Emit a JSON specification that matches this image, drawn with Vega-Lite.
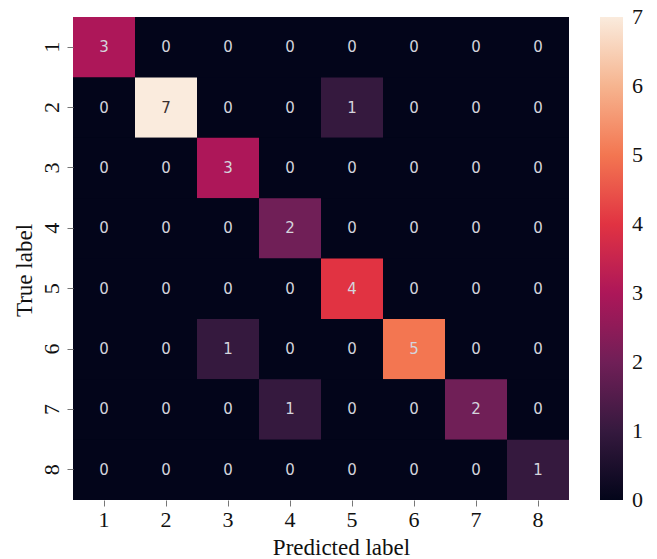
{
  "$schema": "https://vega.github.io/schema/vega-lite/v6.json",
  "autosize": "none",
  "padding": {"left": 73, "top": 17, "right": 88, "bottom": 59},
  "width": 496,
  "height": 483,
  "background": "white",
  "config": {"view": {"stroke": null, "fill": "#03051a"}},
  "data": {"values": [
    {"t":"1","p":"1","v":3},{"t":"1","p":"2","v":0},{"t":"1","p":"3","v":0},{"t":"1","p":"4","v":0},{"t":"1","p":"5","v":0},{"t":"1","p":"6","v":0},{"t":"1","p":"7","v":0},{"t":"1","p":"8","v":0},
    {"t":"2","p":"1","v":0},{"t":"2","p":"2","v":7},{"t":"2","p":"3","v":0},{"t":"2","p":"4","v":0},{"t":"2","p":"5","v":1},{"t":"2","p":"6","v":0},{"t":"2","p":"7","v":0},{"t":"2","p":"8","v":0},
    {"t":"3","p":"1","v":0},{"t":"3","p":"2","v":0},{"t":"3","p":"3","v":3},{"t":"3","p":"4","v":0},{"t":"3","p":"5","v":0},{"t":"3","p":"6","v":0},{"t":"3","p":"7","v":0},{"t":"3","p":"8","v":0},
    {"t":"4","p":"1","v":0},{"t":"4","p":"2","v":0},{"t":"4","p":"3","v":0},{"t":"4","p":"4","v":2},{"t":"4","p":"5","v":0},{"t":"4","p":"6","v":0},{"t":"4","p":"7","v":0},{"t":"4","p":"8","v":0},
    {"t":"5","p":"1","v":0},{"t":"5","p":"2","v":0},{"t":"5","p":"3","v":0},{"t":"5","p":"4","v":0},{"t":"5","p":"5","v":4},{"t":"5","p":"6","v":0},{"t":"5","p":"7","v":0},{"t":"5","p":"8","v":0},
    {"t":"6","p":"1","v":0},{"t":"6","p":"2","v":0},{"t":"6","p":"3","v":1},{"t":"6","p":"4","v":0},{"t":"6","p":"5","v":0},{"t":"6","p":"6","v":5},{"t":"6","p":"7","v":0},{"t":"6","p":"8","v":0},
    {"t":"7","p":"1","v":0},{"t":"7","p":"2","v":0},{"t":"7","p":"3","v":0},{"t":"7","p":"4","v":1},{"t":"7","p":"5","v":0},{"t":"7","p":"6","v":0},{"t":"7","p":"7","v":2},{"t":"7","p":"8","v":0},
    {"t":"8","p":"1","v":0},{"t":"8","p":"2","v":0},{"t":"8","p":"3","v":0},{"t":"8","p":"4","v":0},{"t":"8","p":"5","v":0},{"t":"8","p":"6","v":0},{"t":"8","p":"7","v":0},{"t":"8","p":"8","v":1}
  ]},
  "encoding": {
    "x": {"field": "p", "type": "ordinal", "sort": ["1","2","3","4","5","6","7","8"],
      "scale": {"paddingInner": 0, "paddingOuter": 0},
      "axis": {"title": "Predicted label", "labelAngle": 0, "labelFont": "Liberation Serif", "labelFontSize": 22, "labelColor": "#111", "labelPadding": 3,
        "tickSize": 6, "tickColor": "#777", "domain": false,
        "titleFont": "Liberation Serif", "titleFontSize": 23, "titleFontWeight": "normal", "titleColor": "#111",
        "titleX": 268, "titleY": 54, "titleBaseline": "alphabetic"}},
    "y": {"field": "t", "type": "ordinal", "sort": ["1","2","3","4","5","6","7","8"],
      "scale": {"paddingInner": 0, "paddingOuter": 0},
      "axis": {"title": "True label", "labelAngle": -90, "labelFont": "Liberation Serif", "labelFontSize": 22, "labelColor": "#111", "labelPadding": 4,
        "tickSize": 6, "tickColor": "#777", "domain": false,
        "titleFont": "Liberation Serif", "titleFontSize": 23, "titleFontWeight": "normal", "titleColor": "#111",
        "titleX": -42, "titleY": 253, "titleBaseline": "alphabetic"}}
  },
  "layer": [
    {
      "mark": {"type": "rect", "strokeWidth": 0},
      "encoding": {
        "color": {"field": "v", "type": "quantitative",
          "scale": {"type": "linear", "domain": [0,1,2,3,4,5,6,7], "range": ["#03051a","#35193e","#701f57","#ad1759","#e13342","#f37651","#f6b48f","#faebdd"], "interpolate": "rgb"},
          "legend": {"type": "gradient", "title": null, "orient": "right", "offset": 31, "gradientLength": 483, "gradientThickness": 23,
            "values": [0,1,2,3,4,5,6,7], "labelFont": "Liberation Serif", "labelFontSize": 22, "labelColor": "#111",
            "labelBaseline": "middle", "labelOffset": 9, "labelOverlap": false, "gradientStrokeWidth": 0,
            "encode": {"labels": {"update": {"baseline": {"value": "middle"}}}}}}
      }
    },
    {
      "mark": {"type": "text", "font": "DejaVu Sans", "fontSize": 15, "baseline": "middle", "align": "center"},
      "encoding": {
        "text": {"field": "v", "type": "quantitative"},
        "color": {"condition": {"test": "datum.v >= 6", "value": "#3a3030"}, "value": "#d4d4dc"}
      }
    }
  ]
}
